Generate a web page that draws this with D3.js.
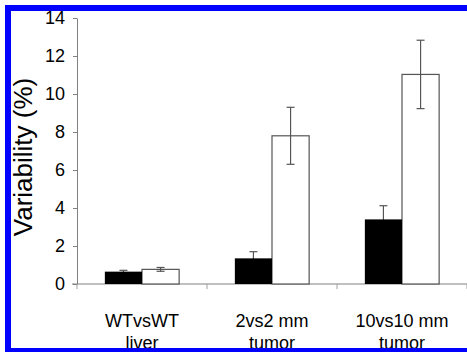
<!DOCTYPE html>
<html>
<head>
<meta charset="utf-8">
<script src="https://cdn.jsdelivr.net/npm/d3@7"></script>
<style>
  html, body { margin: 0; padding: 0; background: #fff; overflow: hidden; }
  svg { display: block; font-family: "Liberation Sans", Arial, sans-serif; }
</style>
</head>
<body>
<div id="chart"></div>
<script>
// category labels (two lines each, split on |)
const categories = ['WTvsWT|liver', '2vs2 mm|tumor', '10vs10 mm|tumor'];
const series = ['black', 'white'];
const blackValues = [0.65, 1.35, 3.4];
const blackErrors = [0.07, 0.35, 0.72];
const whiteValues = [0.77, 7.8, 11.03];
const whiteErrors = [0.1, 1.5, 1.8];
const yTicks = [0, 2, 4, 6, 8, 10, 12, 14];

const W = 467, H = 352;
const svg = d3.select('#chart').append('svg')
  .attr('width', W).attr('height', H);

const x = d3.scaleBand().domain(categories).range([77, 467]).padding(0);
const xs = d3.scaleBand().domain(series).range([0, x.bandwidth()]).paddingInner(0).paddingOuter(0.75);
const y = d3.scaleLinear().domain([0, 14]).range([284, 18]);

// y axis
const yAxis = svg.append('g')
  .attr('transform', 'translate(77,0)')
  .call(d3.axisLeft(y).tickValues(yTicks).tickSize(4).tickPadding(8).tickSizeOuter(0));
yAxis.select('.domain').attr('stroke', '#808080');
yAxis.selectAll('.tick line').attr('stroke', '#808080');
yAxis.selectAll('.tick text')
  .attr('font-size', 18).attr('fill', '#000')
  .attr('font-family', '"Liberation Sans", Arial, sans-serif');

// x axis baseline + boundary ticks
svg.append('line')
  .attr('x1', 72).attr('x2', 467)
  .attr('y1', y(0)).attr('y2', y(0))
  .attr('stroke', '#808080');
const bounds = categories.map(c => x(c)).concat([x.range()[1]]);
svg.selectAll('.xtick').data(bounds).enter().append('line')
  .attr('class', 'xtick')
  .attr('x1', d => d).attr('x2', d => d)
  .attr('y1', y(0)).attr('y2', y(0) + 5)
  .attr('stroke', '#a0a0a0');

// y axis title
svg.append('text')
  .attr('transform', 'translate(32,157) rotate(-90)')
  .attr('text-anchor', 'middle')
  .attr('font-size', 26)
  .text('Variability (%)');

const rows = categories.map((c, i) => ({
  c,
  black: blackValues[i], blackErr: blackErrors[i],
  white: whiteValues[i], whiteErr: whiteErrors[i]
}));

// white bars
svg.selectAll('.wbar').data(rows).enter().append('rect')
  .attr('class', 'wbar')
  .attr('x', d => x(d.c) + xs('white'))
  .attr('y', d => y(d.white))
  .attr('width', xs.bandwidth())
  .attr('height', d => y(0) - y(d.white))
  .attr('fill', '#fff')
  .attr('stroke', '#555')
  .attr('stroke-width', 1.2);

// error bars
function errBars(key, errKey) {
  const g = svg.append('g');
  const cx = d => x(d.c) + xs(key) + xs.bandwidth() / 2;
  g.selectAll('line.v').data(rows).enter().append('line')
    .attr('x1', cx).attr('x2', cx)
    .attr('y1', d => y(d[key] - d[errKey])).attr('y2', d => y(d[key] + d[errKey]))
    .attr('stroke', '#555').attr('stroke-width', 1.2);
  [1, -1].forEach(s => {
    g.selectAll(null).data(rows).enter().append('line')
      .attr('x1', d => cx(d) - 4).attr('x2', d => cx(d) + 4)
      .attr('y1', d => y(d[key] + s * d[errKey])).attr('y2', d => y(d[key] + s * d[errKey]))
      .attr('stroke', '#555').attr('stroke-width', 1.2);
  });
}
errBars('white', 'whiteErr');
errBars('black', 'blackErr');

// black bars
svg.selectAll('.bbar').data(rows).enter().append('rect')
  .attr('class', 'bbar')
  .attr('x', d => x(d.c) + xs('black'))
  .attr('y', d => y(d.black))
  .attr('width', xs.bandwidth())
  .attr('height', d => y(0) - y(d.black))
  .attr('fill', '#000');

// category labels
const lab = svg.selectAll('.cat').data(categories).enter().append('text')
  .attr('class', 'cat')
  .attr('text-anchor', 'middle')
  .attr('font-size', 18)
  .attr('x', d => x(d) + x.bandwidth() / 2)
  .attr('y', 327);
lab.selectAll('tspan').data(d => d.split('|')).enter().append('tspan')
  .attr('x', function () { return d3.select(this.parentNode).attr('x'); })
  .attr('dy', (d, i) => i === 0 ? 0 : 22)
  .text(d => d);

// blue frame: left, top and bottom only (right side runs off the page)
svg.append('path')
  .attr('d', `M${W},8 H8 V351 H${W}`)
  .attr('fill', 'none')
  .attr('stroke', '#0000ff')
  .attr('stroke-width', 6);
</script>
</body>
</html>
